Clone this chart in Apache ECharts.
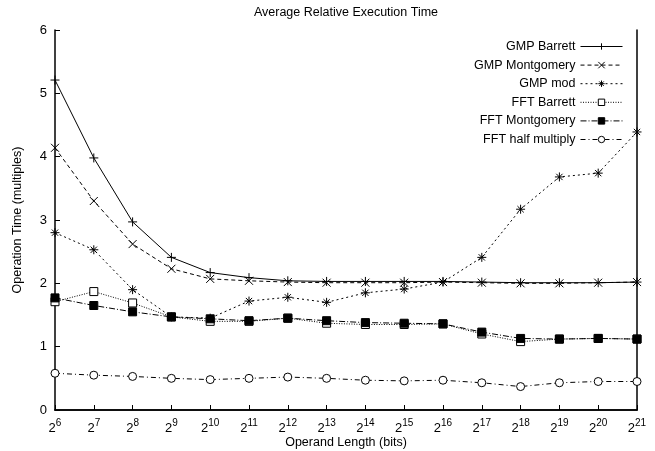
<!DOCTYPE html>
<html><head><meta charset="utf-8">
<script src="https://cdn.jsdelivr.net/npm/echarts@6/dist/echarts.min.js"></script>
<style>html,body{margin:0;padding:0;background:#fff}#c{width:655px;height:451px}</style>
</head><body><div id="c"></div>
<script>
var exponents = [6,7,8,9,10,11,12,13,14,15,16,17,18,19,20,21];
var gmpBarrett    = [5.21,3.98,2.97,2.41,2.17,2.09,2.04,2.03,2.03,2.03,2.03,2.02,2.01,2.01,2.01,2.02];
var gmpMontgomery = [4.14,3.30,2.62,2.23,2.07,2.04,2.02,2.01,2.01,2.01,2.02,2.01,2.00,2.00,2.01,2.02];
var gmpMod        = [2.80,2.53,1.90,1.47,1.45,1.72,1.78,1.70,1.85,1.91,2.02,2.41,3.17,3.68,3.74,4.39];
var fftBarrett    = [1.71,1.87,1.69,1.47,1.40,1.40,1.45,1.37,1.35,1.35,1.36,1.20,1.08,1.12,1.13,1.12];
var fftMontgomery = [1.77,1.65,1.55,1.47,1.44,1.41,1.45,1.41,1.38,1.37,1.36,1.23,1.13,1.12,1.13,1.12];
var fftHalf       = [0.58,0.55,0.53,0.50,0.48,0.50,0.52,0.50,0.47,0.46,0.47,0.43,0.37,0.43,0.45,0.45];
var seriesNames = ['GMP Barrett','GMP Montgomery','GMP mod','FFT Barrett','FFT Montgomery','FFT half multiply'];
var yTicks = [0,1,2,3,4,5,6];

var FONT = 'Liberation Sans, Arial, sans-serif';
var plus = 'path://M0,5L10,5M5,0L5,10';
var cross = 'path://M1,1L9,9M9,1L1,9';
var star = 'path://M0,5L10,5M5,0L5,10M1.5,1.5L8.5,8.5M8.5,1.5L1.5,8.5';

function mk(name, data, dash, symbol, size, fill) {
  return {
    name: name, type: 'line', data: data,
    symbol: symbol, symbolSize: size, showAllSymbol: true,
    lineStyle: {color: '#000', width: 1, type: dash},
    itemStyle: {color: fill, borderColor: '#000', borderWidth: 1},
    emphasis: {disabled: true}, animation: false, z: 3
  };
}

var chart = echarts.init(document.getElementById('c'));
chart.setOption({
  animation: false,
  backgroundColor: '#fff',
  title: {
    text: 'Average Relative Execution Time', left: 341, top: 1, textAlign: 'center',
    textStyle: {fontFamily: FONT, fontSize: 12.5, fontWeight: 'normal', color: '#000'}
  },
  legend: {
    right: 27, top: 35, orient: 'vertical', align: 'right',
    itemWidth: 42, itemHeight: 8, itemGap: 5.6,
    textStyle: {fontFamily: FONT, fontSize: 12.5, color: '#000'},
    lineStyle: {width: 1},
    itemStyle: {borderWidth: 1},
    data: seriesNames
  },
  grid: {left: 55, right: 18, top: 30, bottom: 41, containLabel: false, outerBoundsMode: 'none'},
  xAxis: [{
    type: 'category', boundaryGap: false,
    data: exponents.map(function (e) { return '{b|2}{s|' + e + '}'; }),
    axisLine: {lineStyle: {color: '#000', width: 1.5}},
    axisTick: {inside: true, length: 5, lineStyle: {color: '#000'}},
    axisLabel: {
      margin: 6, interval: 0,
      formatter: function (v) { return v; },
      rich: {
        b: {fontFamily: FONT, fontSize: 13, color: '#000', padding: [6, 0, 0, 0]},
        s: {fontFamily: FONT, fontSize: 10, color: '#000', padding: [0, 0, 4, 0]}
      }
    },
    name: 'Operand Length (bits)', nameLocation: 'middle', nameGap: 26, nameMoveOverlap: false,
    nameTextStyle: {fontFamily: FONT, fontSize: 12.5, color: '#000'},
    splitLine: {show: false}
  }, {
    type: 'category', position: 'top', boundaryGap: false, data: exponents,
    axisLine: {lineStyle: {color: '#000', width: 1.5}},
    axisTick: {show: false}, axisLabel: {show: false}, splitLine: {show: false}
  }],
  yAxis: [{
    type: 'value', min: yTicks[0], max: yTicks[yTicks.length - 1], interval: 1,
    axisLine: {show: true, lineStyle: {color: '#000', width: 1.5}},
    axisTick: {show: true, inside: true, length: 5, lineStyle: {color: '#000'}},
    axisLabel: {fontFamily: FONT, fontSize: 13, color: '#000', margin: 8},
    splitLine: {show: false},
    name: 'Operation Time (multiples)', nameLocation: 'middle', nameGap: 31, nameMoveOverlap: false,
    nameTextStyle: {fontFamily: FONT, fontSize: 12.5, color: '#000'}
  }, {
    type: 'value', position: 'right', min: 0, max: 6, interval: 1,
    axisLine: {show: true, lineStyle: {color: '#000', width: 1.5}},
    axisTick: {show: false}, axisLabel: {show: false}, splitLine: {show: false}
  }],
  series: [
    mk(seriesNames[0], gmpBarrett, 'solid', plus, 9, 'none'),
    mk(seriesNames[1], gmpMontgomery, [4, 3], cross, 8, 'none'),
    mk(seriesNames[2], gmpMod, [2, 3], star, 9, 'none'),
    mk(seriesNames[3], fftBarrett, [1, 1.5], 'rect', 8, '#fff'),
    mk(seriesNames[4], fftMontgomery, [6, 2, 1, 2], 'rect', 8, '#000'),
    mk(seriesNames[5], fftHalf, [5, 3, 1, 3], 'circle', 8, '#fff')
  ]
});
</script></body></html>
